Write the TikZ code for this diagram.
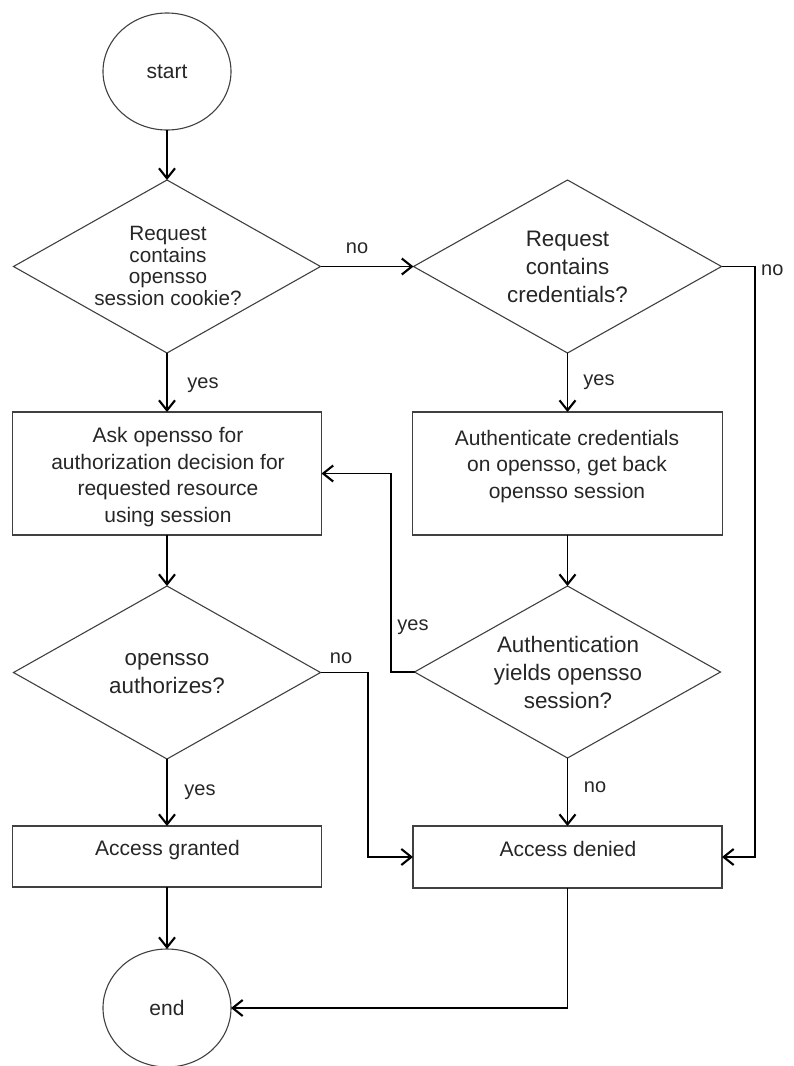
\documentclass[tikz,border=0pt]{standalone}
\usepackage{fontspec}
\setmainfont{Liberation Sans}
\usetikzlibrary{shapes.geometric,arrows.meta}
\definecolor{outl}{HTML}{404040}
\definecolor{txtc}{HTML}{262626}
\begin{document}
\begin{tikzpicture}[x=1pt,y=-1pt,
  shp/.style={draw=outl, line width=1.1pt, inner sep=0pt, outer sep=0pt, text=txtc},
  dia/.style={shp, diamond},
  boxn/.style={shp, rectangle},
  circ/.style={shp, ellipse, font=\fontsize{21}{25}\selectfont},
  txt/.style={align=center, text=txtc, inner sep=0pt},
  dtxt/.style={txt, font=\fontsize{22.4}{28}\selectfont},
  btxt/.style={txt, font=\fontsize{21}{26.7}\selectfont},
  lbl/.style={text=txtc, inner sep=0pt, font=\fontsize{20}{24}\selectfont},
  plain/.style={line width=1.6pt, draw=black},
  conn/.style={plain, -{Straight Barb[length=10pt,width=16pt,line width=2.1pt]}}
]
\useasboundingbox (0,0) rectangle (794,1066);

% shapes
\node[circ, minimum width=128pt, minimum height=117pt] (start) at (167,71.5) {start};
\node[dia, minimum width=307pt, minimum height=173pt] (d1) at (167,266.5) {};
\node[dia, minimum width=308pt, minimum height=173pt] (d2) at (567.5,266.5) {};
\node[boxn, minimum width=309pt, minimum height=123pt] (b1) at (167,473.5) {};
\node[boxn, minimum width=310pt, minimum height=123pt] (b2) at (567.5,473.5) {};
\node[dia, minimum width=307pt, minimum height=173pt] (d4) at (167,672.5) {};
\node[dia, minimum width=306pt, minimum height=172pt] (d3) at (567.5,672) {};
\node[boxn, minimum width=309pt, minimum height=61pt] (ag) at (167,856.5) {};
\node[boxn, minimum width=309pt, minimum height=62pt] (ad) at (567.5,857) {};
\node[circ, minimum width=128pt, minimum height=118pt] (end) at (167,1008) {end};

% texts
\node[txt, font=\fontsize{20.7}{21.7}\selectfont] (d1t) at (168,266) {Request\\contains\\opensso\\session cookie?};
\node[dtxt] (d2t) at (567.5,266.5) {Request\\contains\\credentials?};
\node[btxt] (b1t) at (168,477) {Ask opensso for\\authorization decision for\\requested resource\\using session};
\node[btxt] (b2t) at (567,466.5) {Authenticate credentials\\on opensso, get back\\opensso session};
\node[dtxt] (d3t) at (568,672.5) {Authentication\\yields opensso\\session?};
\node[dtxt] (d4t) at (167,673.5) {opensso\\authorizes?};
\node[btxt] (agt) at (167.5,850.5) {Access granted};
\node[btxt] (adt) at (568,848.5) {Access denied};

% bend points
\coordinate (r1) at (755,266.5);
\coordinate (r2) at (391,672);
\coordinate (r3) at (368,672.5);

% connectors
\draw[conn] (start.south) -- (d1.north);
\draw[conn] (d1.east) -- (d2.west);
\draw[conn] (d2.east) -- (r1) |- (ad.east);
\draw[conn] (d1.south) -- (b1.north);
\draw[conn] (d2.south) -- (b2.north);
\draw[conn] (b1.south) -- (d4.north);
\draw[conn] (b2.south) -- (d3.north);
\draw[conn] (d3.west) -- (r2) |- (b1.east);
\draw[conn] (d4.east) -- (r3) |- (ad.west);
\draw[conn] (d4.south) -- (ag.north);
\draw[conn] (d3.south) -- (ad.north);
\draw[conn] (ag.south) -- (end.north);
\draw[conn] (ad.south) |- (end.east);

% labels
\node[lbl] (l1) at (357,248) {no};
\node[lbl, anchor=west] (l2) at (761,270) {no};
\node[lbl] (l3) at (203,385) {yes};
\node[lbl] (l4) at (599,382) {yes};
\node[lbl] (l5) at (413,627) {yes};
\node[lbl] (l6) at (341,658) {no};
\node[lbl] (l7) at (200,792) {yes};
\node[lbl] (l8) at (595,787) {no};
\end{tikzpicture}
\end{document}
